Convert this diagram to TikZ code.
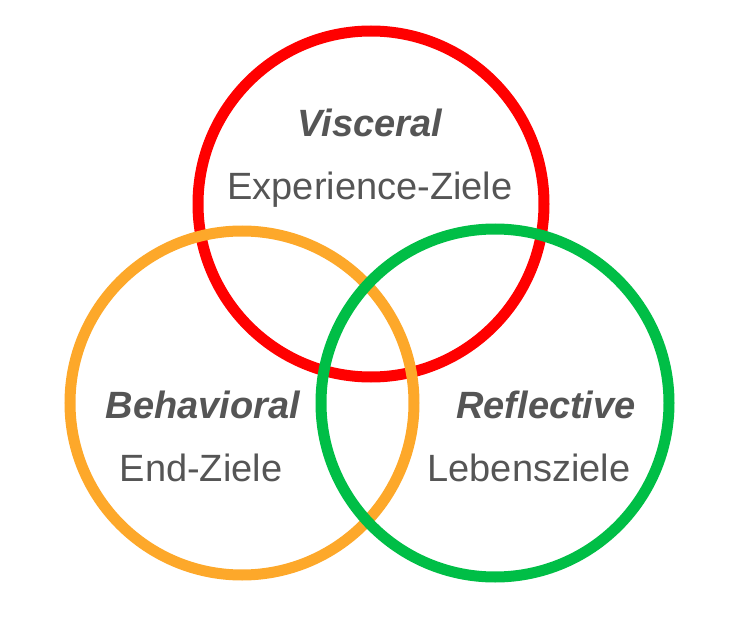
\documentclass[tikz,border=0pt]{standalone}
\usepackage{fontspec}
\setmainfont{Liberation Sans}
\definecolor{cred}{HTML}{FF0000}
\definecolor{corange}{HTML}{FDA82A}
\definecolor{cgreen}{HTML}{00BE46}
\definecolor{ctext}{HTML}{555555}
\begin{document}
\begin{tikzpicture}[x=1pt,y=-1pt,
  ring/.style={line width=11pt, draw=#1},
  title/.style={anchor=base, text=ctext, inner sep=0pt, font=\fontsize{38}{44}\selectfont\bfseries\itshape},
  sub/.style={anchor=base, text=ctext, inner sep=0pt, font=\fontsize{38}{44}\selectfont}]
\useasboundingbox (0,0) rectangle (732,618);
\coordinate (cr) at (371,204);
\coordinate (co) at (242,403);
\coordinate (cg) at (495,403);
\draw[ring=cred] (cr) circle[radius=173];
\draw[ring=corange] (co) circle[radius=172];
\draw[ring=cgreen] (cg) circle[radius=174];
\node[title] (v) at (370,136) {Visceral};
\node[sub] (vz) at (370,199) {Experience-Ziele};
\node[title] (b) at (203,418) {Behavioral};
\node[sub] (bz) at (201,481) {End-Ziele};
\node[title] (r) at (546,418) {Reflective};
\node[sub] (rz) at (529,481) {Lebensziele};
\end{tikzpicture}
\end{document}
